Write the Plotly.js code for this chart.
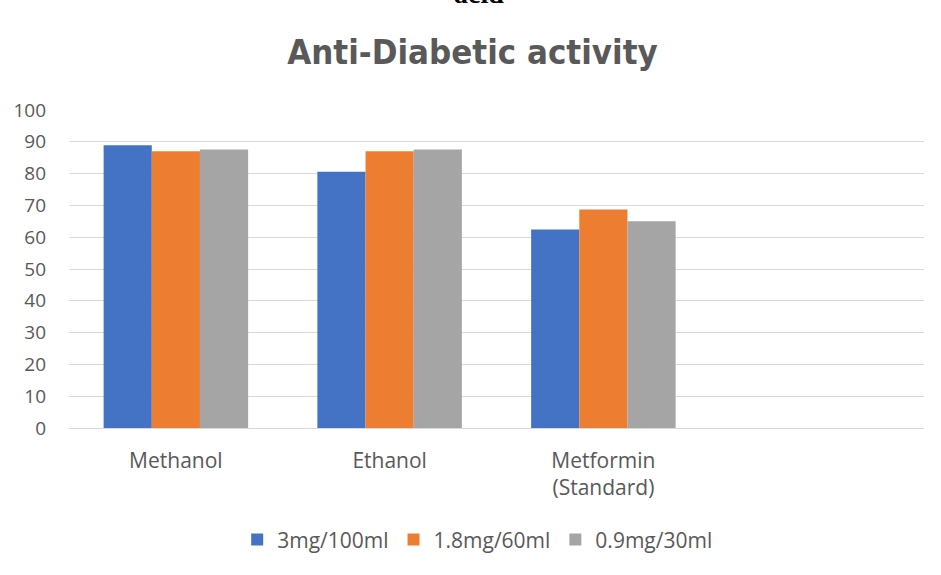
<!DOCTYPE html>
<html>
<head>
<meta charset="utf-8">
<script src="https://cdn.plot.ly/plotly-3.0.1.min.js"></script>
<style>
  html, body { margin: 0; padding: 0; background: #ffffff; }
  #chart { width: 941px; height: 575px; }
</style>
</head>
<body>
<div id="chart"></div>
<script>
// Extract groups and the three dose levels
const categories = ['Methanol', 'Ethanol', 'Metformin<br>(Standard)'];
const seriesNames = ['3mg/100ml', '1.8mg/60ml', '0.9mg/30ml'];
const dose3mg = [88.9, 80.6, 62.4];
const dose1_8mg = [87.0, 87.0, 68.7];
const dose0_9mg = [87.6, 87.6, 65.0];
const yTicks = [0, 10, 20, 30, 40, 50, 60, 70, 80, 90, 100];

const seriesValues = [dose3mg, dose1_8mg, dose0_9mg];
const seriesColors = ['#4472C4', '#ED7D31', '#A5A5A5'];
const textColor = '#595959';
const baseFont = '"Open Sans", "Noto Sans", sans-serif';

const traces = seriesNames.map((name, i) => ({
  type: 'bar',
  name: name,
  x: categories,
  y: seriesValues[i],
  marker: { color: seriesColors[i], line: { width: 0 } },
  hoverinfo: 'skip'
}));

const layout = {
  width: 941,
  height: 575,
  paper_bgcolor: '#ffffff',
  plot_bgcolor: '#ffffff',
  margin: { l: 69, r: 17, t: 110, b: 147, pad: 0 },
  font: { family: baseFont, size: 19, color: textColor },
  title: {
    text: '<b>Anti-Diabetic activity</b>',
    font: { family: '"Liberation Sans Narrow", "DejaVu Sans Condensed", "Noto Sans", sans-serif', size: 34.5, color: textColor },
    x: 472.5 / 941,
    xref: 'container',
    xanchor: 'center',
    y: 1 - 52 / 575,
    yref: 'container',
    yanchor: 'middle'
  },
  barmode: 'group',
  bargap: 0.324,
  bargroupgap: 0,
  showlegend: true,
  legend: {
    orientation: 'h',
    x: 0.478,
    xanchor: 'center',
    y: -0.352,
    yanchor: 'middle',
    font: { family: baseFont, size: 21, color: textColor },
    itemwidth: 30,
    traceorder: 'normal'
  },
  xaxis: {
    type: 'category',
    range: [-0.5, 3.5],
    showgrid: false,
    zeroline: false,
    showline: false,
    ticks: '',
    ticklabelstandoff: 18,
    tickfont: { family: baseFont, size: 21, color: textColor },
    fixedrange: true
  },
  yaxis: {
    range: [0, 100],
    tickvals: yTicks,
    ticktext: yTicks.map(String),
    showgrid: true,
    gridcolor: '#D9D9D9',
    gridwidth: 1,
    zeroline: true,
    zerolinecolor: '#D9D9D9',
    zerolinewidth: 1,
    showline: false,
    ticks: '',
    ticklabelstandoff: 22,
    tickfont: { family: baseFont, size: 19, color: textColor },
    fixedrange: true
  },
  annotations: [{
    // heading line running off the top edge
    text: '<b>acid</b>',
    xref: 'paper',
    yref: 'paper',
    x: 0.479,
    y: 1.31,
    xanchor: 'center',
    yanchor: 'bottom',
    showarrow: false,
    font: { family: '"Liberation Serif", "DejaVu Serif", serif', size: 28, color: '#000000' }
  }]
};

Plotly.newPlot('chart', traces, layout, { staticPlot: true, displayModeBar: false });
</script>
</body>
</html>
